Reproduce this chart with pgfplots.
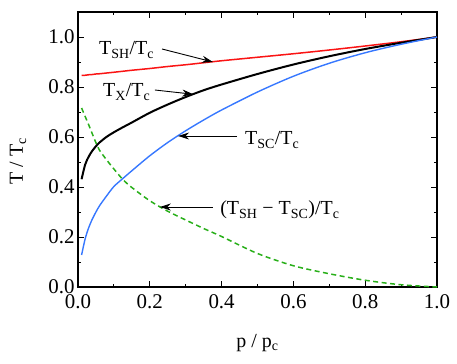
\documentclass[border=0pt]{standalone}
\usepackage{fontspec}
\setmainfont{Liberation Serif}
\usepackage{pgfplots}
\pgfplotsset{compat=1.18}
\usepackage{pgfplotstable}
\usetikzlibrary{arrows.meta}

\definecolor{shred}{RGB}{250,20,20}
\definecolor{scblue}{RGB}{55,120,255}
\definecolor{dgreen}{RGB}{40,175,25}

% p/pc  TSH  TX  TSC  (TSH-TSC)
\pgfplotstableread{
x      red    black  blue   green
0.010  0.846  0.431  0.128  0.716
0.020  0.847  0.490  0.193  0.682
0.030  0.849  0.522  0.238  0.648
0.040  0.850  0.545  0.272  0.612
0.050  0.852  0.563  0.300  0.577
0.060  0.853  0.578  0.325  0.547
0.080  0.856  0.601  0.365  0.508
0.100  0.859  0.619  0.402  0.472
0.125  0.863  0.639  0.434  0.430
0.150  0.867  0.658  0.465  0.398
0.200  0.874  0.697  0.525  0.345
0.250  0.882  0.730  0.578  0.303
0.300  0.889  0.760  0.625  0.268
0.350  0.897  0.787  0.668  0.234
0.400  0.905  0.810  0.708  0.202
0.500  0.919  0.852  0.780  0.134
0.600  0.933  0.890  0.843  0.085
0.700  0.948  0.923  0.895  0.053
0.800  0.964  0.952  0.937  0.027
0.900  0.981  0.977  0.971  0.009
1.000  1.000  1.000  1.000  0.000
}\curves

\newcommand{\lbl}{\fontsize{20}{24}\selectfont}
\newcommand{\tkl}{\fontsize{21}{25}\selectfont}

\begin{document}
\begin{tikzpicture}
\begin{axis}[
  name=ax,
  width=359bp, height=275bp, scale only axis,
  xmin=0, xmax=1, ymin=0, ymax=1.1,
  xtick={0,0.2,0.4,0.6,0.8,1.0},
  ytick={0,0.2,0.4,0.6,0.8,1.0},
  minor x tick num=1, minor y tick num=1,
  major tick length=6bp, minor tick length=3.5bp,
  tick style={black, line width=0.8bp},
  axis line style={line width=1.1bp},
  ticklabel style={font=\tkl},
  xticklabel style={yshift=-4bp},
  /pgf/number format/.cd, fixed, fixed zerofill, precision=1, assume math mode=true,
  /pgfplots/.cd,
  xlabel={p / p\textsubscript{c}},
  ylabel={T / T\textsubscript{c}},
  label style={font=\lbl},
  xlabel style={at={(axis description cs:0.5,-0.205)}, anchor=center},
  ylabel style={at={(axis description cs:-0.167,0.458)}, anchor=center, rotate=0},
]
\addplot[shred, line width=1.5bp, smooth] table[x=x, y=red] {\curves};
\addplot[black, line width=2bp, smooth] table[x=x, y=black] {\curves};
\addplot[scblue, line width=1.4bp, smooth] table[x=x, y=blue] {\curves};
\addplot[dgreen, line width=1.5bp, smooth, dash pattern=on 5bp off 3.5bp] table[x=x, y=green] {\curves};

\node[anchor=base west, inner sep=0, font=\lbl] at (axis cs:0.0585,0.928) {T\textsubscript{SH}/T\textsubscript{c}};
\node[anchor=base west, inner sep=0, font=\lbl] at (axis cs:0.0696,0.760) {T\textsubscript{X}/T\textsubscript{c}};
\node[anchor=base west, inner sep=0, font=\lbl] at (axis cs:0.465,0.568) {T\textsubscript{SC}/T\textsubscript{c}};
\node[anchor=base west, inner sep=0, font=\lbl] at (axis cs:0.396,0.288) {(T\textsubscript{SH} − T\textsubscript{SC})/T\textsubscript{c}};

\draw[-{Stealth[length=11bp,width=7bp]}, line width=0.9bp] (axis cs:0.234,0.952) -- (axis cs:0.376,0.900);
\draw[-{Stealth[length=11bp,width=7bp]}, line width=0.9bp] (axis cs:0.214,0.788) -- (axis cs:0.321,0.771);
\draw[-{Stealth[length=11bp,width=7bp]}, line width=0.9bp] (axis cs:0.443,0.604) -- (axis cs:0.279,0.604);
\draw[-{Stealth[length=11bp,width=7bp]}, line width=0.9bp] (axis cs:0.376,0.320) -- (axis cs:0.228,0.320);
\end{axis}
\path ([shift={(-78bp,-77bp)}]ax.south west) rectangle ([shift={(20bp,12bp)}]ax.north east);
\end{tikzpicture}
\end{document}
